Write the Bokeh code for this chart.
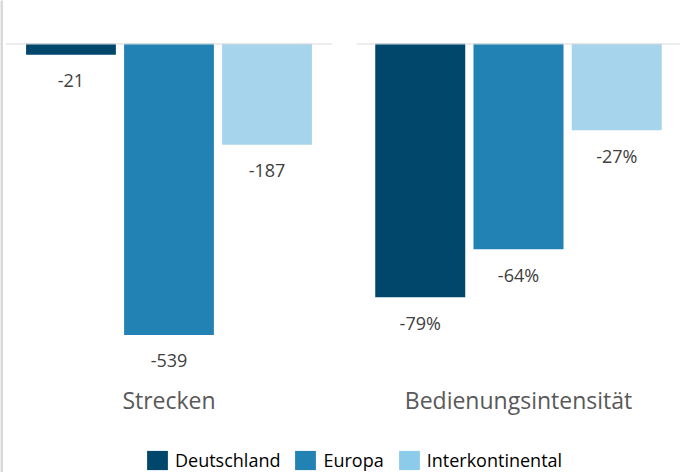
from bokeh.plotting import figure
from bokeh.models import (ColumnDataSource, FactorRange, Range1d, Span, Legend, LegendItem,
                          CategoricalAxis)
from bokeh.layouts import row, column
from bokeh.core.properties import value
from bokeh.embed import file_html
from bokeh.resources import INLINE

# ---- data ----
series = ["Deutschland", "Europa", "Interkontinental"]
groups = ["Strecken", "Bedienungsintensität"]
strecken = [-21, -539, -187]
intensitaet_pct = [-79, -64, -27]

# ---- style ----
bar_colors = ["#00476B", "#2282B4", "#A6D4EC"]
legend_colors = ["#00476B", "#2282B4", "#8DCBEA"]
FONT = "Open Sans"
FRAME_H = 337


def panel(title, vals, labels, width, mb_left, mb_right, rp, px_per_unit):
    p = figure(width=width, height=420,
               x_range=FactorRange(factors=series, range_padding=rp),
               y_range=Range1d(-FRAME_H / px_per_unit, 0),
               output_backend="svg", toolbar_location=None,
               min_border_left=mb_left, min_border_right=mb_right,
               min_border_top=43, min_border_bottom=40,
               x_axis_location=None, y_axis_location=None)
    p.outline_line_color = None
    p.grid.visible = False
    src = ColumnDataSource(dict(x=series, top=vals, lab=labels, color=bar_colors))
    p.vbar(x="x", top="top", bottom=0, width=0.916, source=src,
           fill_color="color", line_color=None)
    p.text(x="x", y="top", text="lab", source=src, y_offset=25.5,
           text_align="center", text_baseline="middle",
           text_font=value(FONT), text_font_size="18px", text_color="#404040")
    p.add_layout(Span(location=0, dimension="width", line_color="#D9D9D9", line_width=2))
    # group name as the single category of an axis below the bars
    p.extra_x_ranges = {"group": FactorRange(factors=[title])}
    ax = CategoricalAxis(x_range_name="group")
    ax.axis_line_color = None
    ax.major_tick_line_color = None
    ax.minor_tick_line_color = None
    ax.major_tick_out = 0
    ax.major_tick_in = 0
    ax.major_label_standoff = 3
    ax.major_label_text_font = FONT
    ax.major_label_text_font_size = "23px"
    ax.major_label_text_font_style = "normal"
    ax.major_label_text_color = "#595959"
    p.add_layout(ax, "below")
    return p


left = panel(groups[0], strecken, [f"{v}" for v in strecken],
             341, 2, 12, 0.112, 0.541)
right = panel(groups[1], intensitaet_pct, [f"{v}%" for v in intensitaet_pct],
              336, 12, 0, 0.0992, 3.213)

# ---- legend ----
lg = figure(width=677, height=52, x_range=FactorRange(factors=series), y_range=Range1d(0, 1),
            output_backend="svg", toolbar_location=None,
            min_border=0, x_axis_location=None, y_axis_location=None)
lg.outline_line_color = None
lg.grid.visible = False
lsrc = ColumnDataSource(dict(x=series, top=strecken, color=legend_colors))
lr = lg.vbar(x="x", top="top", bottom=0, width=0.9, source=lsrc,
             fill_color="color", line_color=None)
lr.visible = False
legend = Legend(items=[LegendItem(label=s, renderers=[lr], index=i) for i, s in enumerate(series)],
                location=(141, 0), orientation="horizontal",
                glyph_width=26, glyph_height=24, label_standoff=5, spacing=12,
                padding=0, margin=0, border_line_color=None, background_fill_alpha=0,
                label_text_font=FONT, label_text_font_size="18px", label_text_color="#000000")
lg.add_layout(legend)

# thin grey frame edge on the left of the chart area
edge = figure(width=3, height=472, output_backend="svg", toolbar_location=None,
              min_border=0, x_axis_location=None, y_axis_location=None,
              background_fill_color="#D9D9D9", border_fill_color="#D9D9D9")
edge.outline_line_color = None
edge.grid.visible = False

layout = row(edge, column(row(left, right), lg))
open("out.html", "w").write(file_html(layout, INLINE))
